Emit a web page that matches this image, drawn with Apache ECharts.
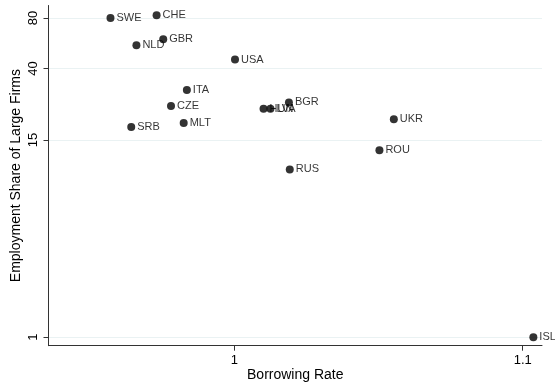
<!DOCTYPE html>
<html>
<head>
<meta charset="utf-8">
<script src="https://cdn.jsdelivr.net/npm/echarts@6/dist/echarts.min.js"></script>
<style>
  html, body { margin: 0; padding: 0; background: #ffffff; }
  #chart { width: 555px; height: 385px; }
</style>
</head>
<body>
<div id="chart"></div>
<script>
// Country codes with their borrowing rate and employment share of large firms (%)
const countries = ['SWE', 'CHE', 'NLD', 'GBR', 'USA', 'ITA', 'CZE', 'MLT', 'SRB', 'BGR', 'HUN', 'LVA', 'UKR', 'ROU', 'RUS', 'ISL'];
const borrowingRate = [0.957, 0.973, 0.966, 0.9753, 1.0002, 0.9835, 0.978, 0.9824, 0.9642, 1.0189, 1.0101, 1.0125, 1.0553, 1.0503, 1.0192, 1.1037];
const largeFirmShare = [80, 83, 55, 59.7, 45.2, 29.8, 23.9, 18.95, 17.9, 25.1, 23, 23, 19.9, 13, 10, 1];

// Axis tick positions
const xTicks = [1, 1.1];
const yTicks = [1, 15, 40, 80];

const FONT = 'Liberation Sans, Arial, Helvetica, sans-serif';

const chart = echarts.init(document.getElementById('chart'), null, { renderer: 'canvas' });

const points = countries.map((c, i) => ({ name: c, value: [borrowingRate[i], largeFirmShare[i]] }));

chart.setOption({
  animation: false,
  backgroundColor: '#ffffff',
  grid: { left: 48.5, right: 13, top: 5.5, bottom: 39.3, containLabel: false, outerBoundsMode: 'none' },
  xAxis: {
    type: 'value',
    min: 0.9355,
    max: 1.1067,
    name: 'Borrowing Rate',
    nameLocation: 'middle',
    nameGap: 22,
    nameMoveOverlap: false,
    nameTextStyle: { fontFamily: FONT, fontSize: 14, color: '#000' },
    axisLine: { show: true, onZero: false, lineStyle: { color: '#333', width: 1 } },
    axisTick: { show: true, length: 5, customValues: xTicks, lineStyle: { color: '#333' } },
    axisLabel: { customValues: xTicks, margin: 8, fontFamily: FONT, fontSize: 13, color: '#000',
      formatter: v => String(v) },
    splitLine: { show: false }
  },
  yAxis: {
    type: 'log',
    logBase: 10,
    min: 0.889,
    max: 95,
    name: 'Employment Share of Large Firms',
    nameLocation: 'middle',
    nameGap: 25,
    nameMoveOverlap: false,
    nameTextStyle: { fontFamily: FONT, fontSize: 14, color: '#000' },
    axisLine: { show: true, onZero: false, lineStyle: { color: '#333', width: 1 } },
    axisTick: { show: true, length: 5, customValues: yTicks, lineStyle: { color: '#333' } },
    axisLabel: { customValues: yTicks, rotate: 90, margin: 9, fontFamily: FONT, fontSize: 13, color: '#000',
      formatter: v => String(Math.round(v)) },
    splitLine: { show: true, lineStyle: { color: '#eaf2f3', width: 1 } }
  },
  series: [{
    type: 'scatter',
    symbol: 'circle',
    symbolSize: 8,
    itemStyle: { color: '#000' },
    clip: false,
    label: {
      show: true,
      position: 'right',
      distance: 2,
      formatter: '{b}',
      fontFamily: FONT,
      fontSize: 11,
      color: '#000'
    },
    data: points
  }]
});
</script>
</body>
</html>
